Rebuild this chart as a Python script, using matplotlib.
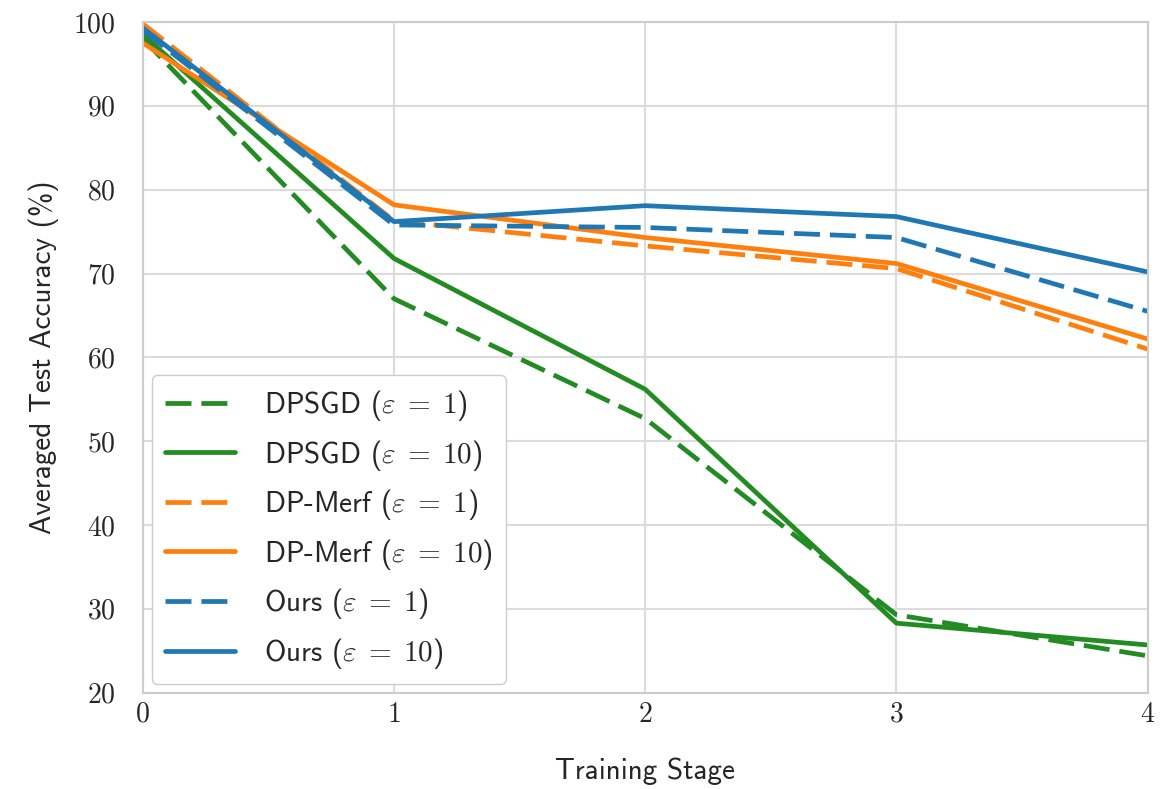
import matplotlib
matplotlib.use("Agg")
import matplotlib.pyplot as plt
import seaborn as sns

sns.set_style("whitegrid")
plt.rcParams['font.family'] = ['cmss10', 'DejaVu Sans']
plt.rcParams['mathtext.fontset'] = 'cm'
plt.rcParams['axes.unicode_minus'] = False

stages = [0, 1, 2, 3, 4]
dpsgd_e1 = [98.0, 67.0, 52.7, 29.3, 24.4]
dpsgd_e10 = [98.5, 71.8, 56.2, 28.3, 25.7]
merf_e1 = [99.8, 76.3, 73.3, 70.6, 61.0]
merf_e10 = [97.5, 78.2, 74.3, 71.2, 62.2]
ours_e1 = [99.0, 75.8, 75.5, 74.3, 65.5]
ours_e10 = [99.3, 76.2, 78.1, 76.8, 70.2]

series = [
    (dpsgd_e1, 'forestgreen', '--', r'DPSGD ($\varepsilon\;=\;1$)'),
    (dpsgd_e10, 'forestgreen', '-', r'DPSGD ($\varepsilon\;=\;10$)'),
    (merf_e1, '#ff7f0e', '--', r'DP-Merf ($\varepsilon\;=\;1$)'),
    (merf_e10, '#ff7f0e', '-', r'DP-Merf ($\varepsilon\;=\;10$)'),
    (ours_e1, '#1f77b4', '--', r'Ours ($\varepsilon\;=\;1$)'),
    (ours_e10, '#1f77b4', '-', r'Ours ($\varepsilon\;=\;10$)'),
]

fig = plt.figure(figsize=(11.71, 7.89), dpi=100)
ax = fig.add_axes([0.122, 0.122, 0.858, 0.850])

for vals, c, ls, lab in series:
    line, = ax.plot(stages, vals, color=c, linestyle=ls, linewidth=3.4, label=lab)
    if ls == '--':
        line.set_dashes((5.5, 2.1))

ax.set_xlim(0, 4)
ax.set_ylim(20, 100)
ax.set_xticks(stages)
ax.set_xticklabels([r'$%d$' % s for s in stages], fontsize=20)
yt = list(range(20, 101, 10))
ax.set_yticks(yt)
ax.set_yticklabels([r'$%d$' % v for v in yt], fontsize=20)
ax.set_xlabel('Training Stage', fontsize=21, labelpad=22)
ax.set_ylabel('Averaged Test Accuracy (%)', fontsize=21, labelpad=10)
ax.tick_params(axis='y', pad=16)
ax.tick_params(axis='x', pad=3)
ax.grid(True, color='#dcdcdc', linewidth=1.5)
for sp in ax.spines.values():
    sp.set_color('#cccccc')
    sp.set_linewidth(1.5)

ax.legend(loc='lower left', fontsize=21, handlelength=2.4, borderpad=0.45,
          labelspacing=0.5, handletextpad=1.0, borderaxespad=0.3,
          framealpha=1.0)

fig.savefig('out.png', dpi=100)
